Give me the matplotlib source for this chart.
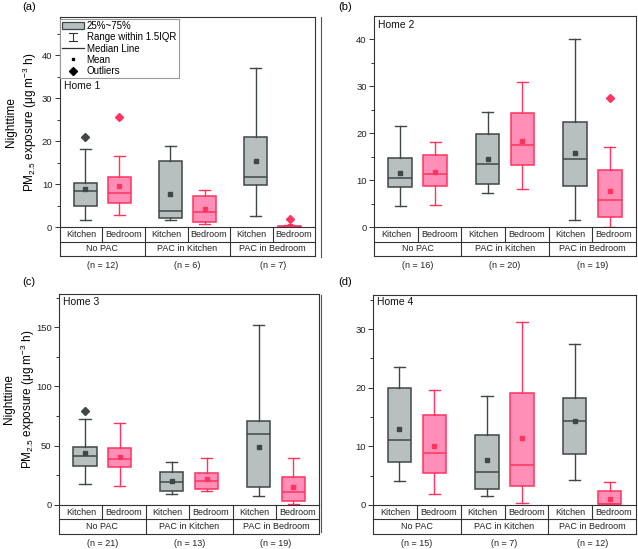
import numpy as np
import matplotlib
matplotlib.use("Agg")
import matplotlib.pyplot as plt
from matplotlib.patches import Patch
from matplotlib.lines import Line2D
from matplotlib.legend_handler import HandlerBase

plt.rcParams['font.family'] = ['Liberation Sans', 'DejaVu Sans']
plt.rcParams['mathtext.fontset'] = 'custom'
plt.rcParams['mathtext.rm'] = 'Liberation Sans'
plt.rcParams['mathtext.it'] = 'Liberation Sans:italic'

# categories
rooms = ["Kitchen", "Bedroom"] * 3
groups = ["No PAC", "PAC in Kitchen", "PAC in Bedroom"]
positions = [1, 2, 3.5, 4.5, 6, 7]

# Home 1 (Kitchen, Bedroom) x (No PAC, PAC in Kitchen, PAC in Bedroom)
home1_lo = [1.7, 2.8, 1.6, 0.75, 2.7, 0.0]
home1_q1 = [4.9, 5.55, 2.2, 1.2, 9.8, 0.05]
home1_med = [8.35, 7.95, 3.7, 3.55, 11.8, 0.1]
home1_q3 = [10.4, 11.6, 15.5, 7.3, 21.0, 0.35]
home1_hi = [18.2, 16.5, 18.9, 8.65, 37.0, 0.45]
home1_mean = [8.9, 9.65, 7.65, 4.2, 15.4, 0.3]
home1_out = [[20.9], [25.6], [], [], [], [1.85]]
home1_n = [12, 6, 7]

# Home 2
home2_lo = [4.6, 4.7, 7.2, 8.1, 1.5, 0.0]
home2_q1 = [8.5, 8.7, 9.2, 13.2, 8.8, 2.2]
home2_med = [10.5, 11.3, 13.4, 17.4, 14.5, 5.9]
home2_q3 = [14.7, 15.3, 19.8, 24.3, 22.4, 12.1]
home2_hi = [21.6, 18.2, 24.5, 30.8, 40.1, 17.0]
home2_mean = [11.5, 11.7, 14.5, 18.3, 15.9, 7.7]
home2_out = [[], [], [], [], [], [27.6]]
home2_n = [16, 20, 19]

# Home 3
home3_lo = [18.0, 16.0, 9.0, 11.8, 7.3, 1.1]
home3_q1 = [33.2, 32.1, 11.8, 13.2, 15.5, 3.6]
home3_med = [41.4, 39.1, 19.2, 20.0, 60.3, 10.7]
home3_q3 = [49.3, 48.4, 27.6, 27.3, 71.0, 23.9]
home3_hi = [72.4, 69.5, 36.6, 39.4, 152.0, 39.4]
home3_mean = [43.7, 40.3, 20.3, 21.7, 49.3, 15.0]
home3_out = [[79.5], [], [], [], [], []]
home3_n = [21, 13, 19]

# Home 4
home4_lo = [4.1, 1.9, 1.5, 0.3, 4.2, 0.0]
home4_q1 = [7.3, 5.5, 2.7, 3.3, 8.65, 0.1]
home4_med = [11.1, 8.9, 5.7, 6.9, 14.4, 0.15]
home4_q3 = [20.0, 15.3, 11.9, 19.1, 18.2, 2.4]
home4_hi = [23.5, 19.6, 18.5, 31.2, 27.5, 3.9]
home4_mean = [12.9, 10.1, 7.7, 11.4, 14.3, 1.1]
home4_out = [[], [], [], [], [], []]
home4_n = [15, 7, 12]

W, H = 638, 549
fig = plt.figure(figsize=(W / 100, H / 100), dpi=100)

grey_fc, grey_ec = "#b8bfbf", "#3f4747"
pink_fc, pink_ec = "#ff8fb6", "#ff3360"
line_c = "#333333"
XL, XR = 0.26, 7.74


def px_axes(l, t, r, b):
    return fig.add_axes([l / W, 1 - b / H, (r - l) / W, (b - t) / H])


def draw_panel(ax, lo, q1, med, q3, hi, mean, out, ns, ymax, major, minor, home, hpx, home_y):
    for k, (fc, ec) in enumerate([(grey_fc, grey_ec), (pink_fc, pink_ec)]):
        idx = range(k, 6, 2)
        stats = [dict(whislo=lo[i], q1=q1[i], med=med[i], q3=q3[i], whishi=hi[i],
                      mean=mean[i], fliers=out[i]) for i in idx]
        ax.bxp(stats, positions=[positions[i] for i in idx], widths=0.67,
               capwidths=0.32, showmeans=True, patch_artist=True,
               boxprops=dict(facecolor=fc, edgecolor=ec, linewidth=1.1),
               whiskerprops=dict(color=ec, linewidth=1.0),
               capprops=dict(color=ec, linewidth=1.0),
               medianprops=dict(color=ec, linewidth=1.1),
               meanprops=dict(marker="s", markerfacecolor=ec, markeredgecolor=ec,
                              markersize=2.2),
               flierprops=dict(marker="D", markerfacecolor=ec, markeredgecolor=ec,
                               markersize=3.8))
    ax.set_xlim(XL, XR)
    ax.set_ylim(0, ymax)
    ax.set_yticks(np.arange(0, ymax, major))
    ax.set_yticks(np.arange(0, ymax, minor), minor=True)
    ax.set_xticks([])
    ax.tick_params(axis="y", which="major", direction="out", length=3.5, width=0.7,
                   labelsize=6.8, pad=2, colors=line_c, labelcolor="#222222")
    ax.tick_params(axis="y", which="minor", direction="out", length=2, width=0.7,
                   colors=line_c)
    for s in ax.spines.values():
        s.set_color(line_c)
        s.set_linewidth(0.8)

    # category table below the axes
    r = 14.3 / hpx
    tr = ax.get_xaxis_transform()
    kw = dict(color=line_c, lw=0.8, clip_on=False, transform=tr)
    ax.plot([XL, XL], [0, -2 * r], **kw)
    ax.plot([XR, XR], [0, -2 * r], **kw)
    ax.plot([XL, XR], [-r, -r], **kw)
    ax.plot([XL, XR], [-2 * r, -2 * r], **kw)
    for xd in [1.5, 4.0, 6.5]:
        ax.plot([xd, xd], [0, -r], **kw)
    for xd in [2.75, 5.25]:
        ax.plot([xd, xd], [0, -2 * r], **kw)
    edges = [XL, 1.5, 2.75, 4.0, 5.25, 6.5, XR]
    for j, name in enumerate(rooms):
        ax.text((edges[j] + edges[j + 1]) / 2, -r / 2, name, transform=tr,
                ha="center", va="center", fontsize=6.5, color="#222222")
    for xc, g, n in zip([1.5, 4.0, 6.5], groups, ns):
        ax.text(xc, -1.5 * r, g, transform=tr, ha="center", va="center",
                fontsize=6.5, color="#222222")
        ax.text(xc, -2 * r - 10 / hpx, "(n = %d)" % n, transform=tr, ha="center",
                va="center", fontsize=6.5, color="#222222")
    ax.text(0.015, home_y, home, transform=ax.transAxes, ha="left", va="center",
            fontsize=7.5, color="#111111")


ylab = "Nighttime\nPM$_{\\mathregular{2.5}}$ exposure (μg m$^{\\mathregular{-3}}$ h)"

# (a)
ax1 = px_axes(60, 16.7, 315, 227.3)
draw_panel(ax1, home1_lo, home1_q1, home1_med, home1_q3, home1_hi, home1_mean,
           home1_out, home1_n, 49, 10, 5, "Home 1", 210.6, 0.67)
ax1.text(-0.15, 0.5, ylab, transform=ax1.transAxes, rotation=90, ha="center",
         va="center", fontsize=8.5, linespacing=1.3, multialignment="center")

# (b)
ax2 = px_axes(374.3, 15.7, 635.7, 227.3)
draw_panel(ax2, home2_lo, home2_q1, home2_med, home2_q3, home2_hi, home2_mean,
           home2_out, home2_n, 45, 10, 5, "Home 2", 211.6, 0.956)

# (c)
ax3 = px_axes(59.3, 294, 319, 505)
draw_panel(ax3, home3_lo, home3_q1, home3_med, home3_q3, home3_hi, home3_mean,
           home3_out, home3_n, 178, 50, 25, "Home 3", 211, 0.964)
ax3.text(-0.15, 0.5, ylab, transform=ax3.transAxes, rotation=90, ha="center",
         va="center", fontsize=8.5, linespacing=1.3, multialignment="center")

# (d)
ax4 = px_axes(373.3, 295, 635.7, 505)
draw_panel(ax4, home4_lo, home4_q1, home4_med, home4_q3, home4_hi, home4_mean,
           home4_out, home4_n, 35.8, 10, 5, "Home 4", 210, 0.965)

# panel letters
for lab, x, y in [("(a)", 22, 7), ("(b)", 338, 7), ("(c)", 22, 282), ("(d)", 338, 282)]:
    fig.text(x / W, 1 - y / H, lab, ha="left", va="center", fontsize=8)

# thin separator lines on the left of right-hand panels
fig.add_artist(Line2D([321 / W, 321 / W], [1 - 17 / H, 1 - 257 / H], color="#555555", lw=0.8))
fig.add_artist(Line2D([321 / W, 321 / W], [1 - 295 / H, 1 - 532 / H], color="#555555", lw=0.8))


class WhiskerHandler(HandlerBase):
    def create_artists(self, legend, orig_handle, xd, yd, width, height, fontsize, trans):
        cx = -xd + width / 2
        y0, y1 = -yd - 0.15 * height, -yd + 1.1 * height
        cw = 3.0
        return [Line2D([cx, cx], [y0, y1], color="#333333", lw=0.8, transform=trans),
                Line2D([cx - cw, cx + cw], [y0, y0], color="#333333", lw=0.8, transform=trans),
                Line2D([cx - cw, cx + cw], [y1, y1], color="#333333", lw=0.8, transform=trans)]


whisk = object()
handles = [Patch(facecolor=grey_fc, edgecolor=grey_ec, linewidth=0.9),
           whisk,
           Line2D([], [], color="#333333", lw=0.9),
           Line2D([], [], color="k", marker="s", markersize=2.0, linestyle="none"),
           Line2D([], [], color="k", marker="D", markersize=3.8, linestyle="none")]
labels = ["25%~75%", "Range within 1.5IQR", "Median Line", "Mean", "Outliers"]
leg = ax1.legend(handles, labels, loc="upper left", bbox_to_anchor=(0.0, 0.99),
                 borderaxespad=0, fontsize=7.0, labelspacing=0.12, handlelength=2.2,
                 handletextpad=0.3, borderpad=0.25, fancybox=False, framealpha=1,
                 edgecolor="#999999", handler_map={whisk: WhiskerHandler()})
leg.get_frame().set_linewidth(0.8)

fig.savefig("out.png", dpi=100)
